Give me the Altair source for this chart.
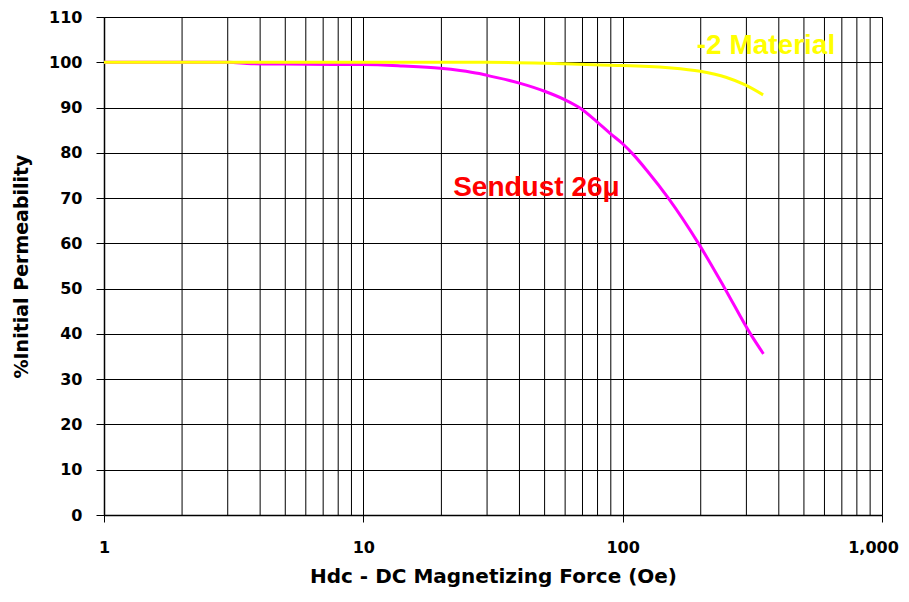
import altair as alt
import pandas as pd

# Sendust 26u curve
sendust_h = [1, 2, 3, 3.7, 5, 8.6, 10, 14.2, 19.8, 23.6, 28, 30, 40, 50, 60, 68.5, 79.4, 89.4, 100, 110, 124, 150, 196, 248, 311, 349]
sendust_p = [100, 100, 100, 99.7, 99.6, 99.5, 99.5, 99.2, 98.7, 98.2, 97.5, 97.1, 95.4, 93.6, 91.7, 89.9, 86.9, 84.3, 82.0, 79.6, 76.1, 70.0, 60.0, 50.0, 40.0, 35.6]

# -2 Material curve
mat2_h = [1, 10, 30, 50, 82, 100, 150, 199, 250, 297, 348]
mat2_p = [100, 100, 100, 99.8, 99.4, 99.3, 98.8, 98.0, 96.7, 95.0, 92.8]

major_ticks = [1, 10, 100, 1000]
minor_grid = [2, 3, 4, 5, 6, 7, 8, 9, 20, 30, 40, 50, 60, 70, 80, 90, 200, 300, 400, 500, 600, 700, 800, 900]
y_ticks = list(range(0, 111, 10))

labels_text = ["-2 Material", "Sendust 26μ"]
labels_h = [193, 22.2]
labels_p = [103.7, 72.2]
labels_color = ["#FFFF00", "#FF0000"]

FONT = "Liberation Sans"
AXFONT = "DejaVu Sans"

df_s = pd.DataFrame({"h": sendust_h, "p": sendust_p})
df_m = pd.DataFrame({"h": mat2_h, "p": mat2_p})
df_g = pd.DataFrame({"h": minor_grid})
df_l = pd.DataFrame({"t": labels_text, "h": labels_h, "p": labels_p, "c": labels_color})

xscale = alt.Scale(type="log", domain=[1, 1000], nice=False)
yscale = alt.Scale(domain=[0, 110], nice=False, zero=False)

xaxis = alt.Axis(
    values=major_ticks, format=",", grid=True, gridColor="#000000", gridOpacity=1, gridWidth=1,
    domainColor="#000000", domainWidth=1.5, tickColor="#000000", tickSize=7, tickWidth=1,
    labelFont=AXFONT, labelFontSize=16, labelFontWeight="bold", labelColor="#000000", labelPadding=17,
    labelFlush=False, labelOverlap=False,
    labelOffset={"condition": {"test": "datum.value == 1000", "value": -9}, "value": 0},
    title="Hdc - DC Magnetizing Force (Oe)", titleFont=AXFONT, titleFontSize=20, titleFontWeight="bold",
    titleColor="#000000", titlePadding=11,
)
yaxis = alt.Axis(
    values=y_ticks, grid=True, gridColor="#000000", gridOpacity=1, gridWidth=1,
    domainColor="#000000", domainWidth=1.5, tickColor="#000000", tickSize=8, tickWidth=1,
    labelFont=AXFONT, labelFontSize=16, labelFontWeight="bold", labelColor="#000000", labelPadding=14,
    title="%Initial Permeability", titleFont=AXFONT, titleFontSize=19, titleFontWeight="bold",
    titleColor="#000000", titlePadding=17,
)

grid = alt.Chart(df_g).mark_rule(color="#000000", strokeWidth=1).encode(
    x=alt.X("h:Q", scale=xscale, axis=xaxis),
)

sendust = alt.Chart(df_s).mark_line(color="#FF00FF", strokeWidth=3, interpolate="monotone").encode(
    x=alt.X("h:Q", scale=xscale, axis=xaxis),
    y=alt.Y("p:Q", scale=yscale, axis=yaxis),
)
mat2 = alt.Chart(df_m).mark_line(color="#FFFF00", strokeWidth=3, interpolate="monotone").encode(
    x=alt.X("h:Q", scale=xscale),
    y=alt.Y("p:Q", scale=yscale),
)
labels = alt.Chart(df_l).mark_text(
    font=FONT, fontSize=28, fontWeight="bold", align="left", baseline="middle"
).encode(
    x=alt.X("h:Q", scale=xscale),
    y=alt.Y("p:Q", scale=yscale),
    text="t:N",
    color=alt.Color("c:N", scale=None),
)

chart = alt.layer(grid, sendust, mat2, labels).properties(
    width=778, height=498,
    autosize=alt.AutoSizeParams(type="none"),
    padding={"left": 96, "top": 9, "right": 19, "bottom": 78},
).configure_view(stroke=None).configure(background="#FFFFFF")

chart.save("out.html", embed_options={"renderer": "svg", "actions": False})
